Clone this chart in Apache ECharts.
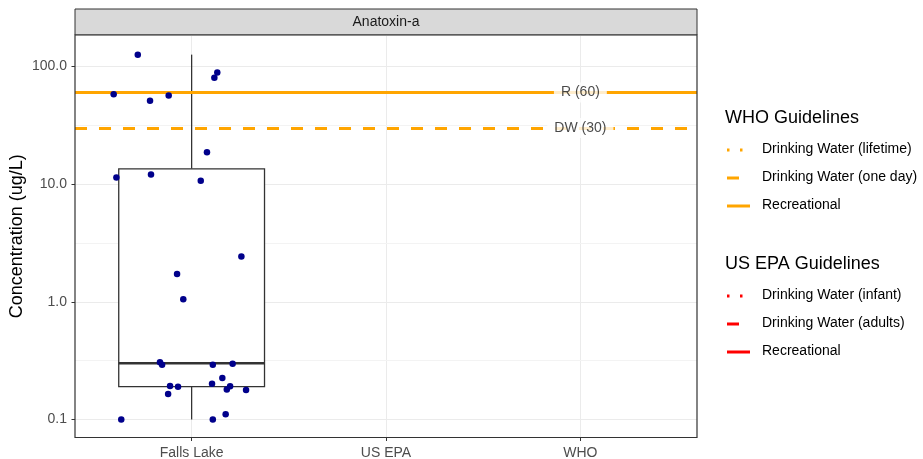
<!DOCTYPE html>
<html>
<head>
<meta charset="utf-8">
<script src="https://cdn.jsdelivr.net/npm/echarts@6/dist/echarts.min.js"></script>
<style>
  html, body { margin: 0; padding: 0; background: #ffffff; }
  #chart { width: 923px; height: 459px; }
</style>
</head>
<body>
<div id="chart"></div>
<script>
// Facet categories on the x axis
const categories = ['Falls Lake', 'US EPA', 'WHO'];

// Minor gridline breaks (half-decades on the log scale)
const yMinorBreaks = [0.316, 3.16, 31.6];

// Falls Lake samples: jittered x position and anatoxin-a concentration (ug/L)
const sampleX = [0.723, 1.132, 1.117, 0.599, 0.786, 0.882, 1.079, 0.613, 0.791, 1.047,
                 1.256, 0.925, 0.957, 0.837, 0.848, 1.109, 1.211, 1.158, 1.105, 0.889,
                 0.930, 0.879, 1.198, 1.181, 1.280, 0.638, 1.109, 1.175];
const sampleConc = [126, 89, 80, 58, 51, 56.5, 18.7, 11.4, 12.1, 10.7,
                    2.43, 1.72, 1.05, 0.307, 0.292, 0.292, 0.297, 0.225, 0.201, 0.193,
                    0.19, 0.165, 0.192, 0.18, 0.178, 0.10, 0.10, 0.111];

// Falls Lake box summary: lower whisker, Q1, median, Q3, upper whisker
const boxStats = [0.1, 0.19, 0.30, 13.5, 126];

// WHO guideline values drawn as horizontal lines
const guidelineAbbr = ['R', 'DW'];
const guidelineValues = [60, 30];

// Legend entries
const whoLegend = ['Drinking Water (lifetime)', 'Drinking Water (one day)', 'Recreational'];
const epaLegend = ['Drinking Water (infant)', 'Drinking Water (adults)', 'Recreational'];

const FONT = '"Liberation Sans", Arial, sans-serif';
const ORANGE = '#FFA500';
const RED = '#FF0000';
const GRID_LEFT = 75, GRID_RIGHT_EDGE = 697, GRID_TOP = 35, GRID_BOTTOM_EDGE = 437.5;

const chart = echarts.init(document.getElementById('chart'), null, { renderer: 'canvas' });

// Legend keys and labels as graphic elements
function legendBlock(title, items, color, titleY, itemY0) {
  const els = [{
    type: 'text', left: 725, top: titleY - 10,
    style: { text: title, font: '18px ' + FONT, fill: '#000000' }
  }];
  const dashes = [[2.5, 10.5], [12, 12], null];
  items.forEach((txt, i) => {
    const y = itemY0 + i * 28;
    els.push({
      type: 'line',
      shape: { x1: 727, y1: y, x2: 750, y2: y },
      style: { stroke: color, lineWidth: 3, lineDash: dashes[i] || null, lineCap: 'butt' }
    });
    els.push({
      type: 'text', left: 762, top: y - 8,
      style: { text: txt, font: '14px ' + FONT, fill: '#000000' }
    });
  });
  return els;
}

const graphics = [
  {
    type: 'rect',
    shape: { x: GRID_LEFT, y: 9, width: GRID_RIGHT_EDGE - GRID_LEFT, height: GRID_TOP - 9 },
    style: { fill: '#D9D9D9', stroke: '#333333', lineWidth: 1 }
  },
  {
    type: 'text',
    x: (GRID_LEFT + GRID_RIGHT_EDGE) / 2, y: 22,
    style: { text: 'Anatoxin-a', font: '14px ' + FONT, fill: '#1A1A1A', align: 'center', verticalAlign: 'middle' }
  },
  {
    // Panel border drawn above the plotted marks
    type: 'rect', z: 100,
    shape: { x: GRID_LEFT, y: GRID_TOP, width: GRID_RIGHT_EDGE - GRID_LEFT, height: GRID_BOTTOM_EDGE - GRID_TOP },
    style: { fill: null, stroke: '#333333', lineWidth: 1.2 }
  }
].concat(legendBlock('WHO Guidelines', whoLegend, ORANGE, 119, 150))
 .concat(legendBlock('US EPA Guidelines', epaLegend, RED, 265, 296));

const option = {
  animation: false,
  backgroundColor: '#ffffff',
  textStyle: { fontFamily: FONT },
  grid: {
    left: GRID_LEFT, top: GRID_TOP,
    right: 923 - GRID_RIGHT_EDGE, bottom: 459 - GRID_BOTTOM_EDGE,
    containLabel: false, outerBoundsMode: 'none',
    show: false
  },
  xAxis: {
    type: 'value', min: 0.4, max: 3.6,
    axisLine: { show: false },
    axisTick: { show: true, customValues: [1, 2, 3], length: 3.5, lineStyle: { color: '#333333' } },
    axisLabel: {
      customValues: [1, 2, 3], margin: 8.5,
      formatter: v => categories[Math.round(v) - 1] || '',
      color: '#4D4D4D', fontSize: 14, fontFamily: FONT
    },
    splitLine: { show: false }
  },
  yAxis: {
    type: 'log', logBase: 10, min: 0.0703, max: 185,
    name: 'Concentration (ug/L)', nameLocation: 'middle', nameGap: 49, nameMoveOverlap: false,
    nameTextStyle: { color: '#000000', fontSize: 18, fontFamily: FONT },
    axisLine: { show: false },
    axisTick: { show: true, length: 3.5, lineStyle: { color: '#333333' } },
    axisLabel: {
      margin: 8, color: '#4D4D4D', fontSize: 14, fontFamily: FONT,
      showMinLabel: false, showMaxLabel: false,
      formatter: v => Number(v).toFixed(1)
    },
    splitLine: { show: true, lineStyle: { color: '#EBEBEB', width: 1 } }
  },
  graphic: graphics,
  series: [
    {
      // Box and whiskers for Falls Lake, plus background gridlines
      type: 'custom',
      z: 2,
      data: [[1].concat(boxStats)],
      renderItem: (params, api) => {
        const x = api.value(0);
        const half = 0.375;
        const lo = api.coord([x, api.value(1)]);
        const q1 = api.coord([x, api.value(2)]);
        const md = api.coord([x, api.value(3)]);
        const q3 = api.coord([x, api.value(4)]);
        const hi = api.coord([x, api.value(5)]);
        const left = api.coord([x - half, api.value(3)])[0];
        const right = api.coord([x + half, api.value(3)])[0];
        const stroke = { stroke: '#333333', lineWidth: 1.3, fill: null };
        return {
          type: 'group',
          children: [
            { type: 'line', shape: { x1: hi[0], y1: hi[1], x2: q3[0], y2: q3[1] }, style: stroke },
            { type: 'line', shape: { x1: q1[0], y1: q1[1], x2: lo[0], y2: lo[1] }, style: stroke },
            { type: 'rect', shape: { x: left, y: q3[1], width: right - left, height: q1[1] - q3[1] },
              style: { fill: '#ffffff', stroke: '#333333', lineWidth: 1.3 } },
            { type: 'line', shape: { x1: left, y1: md[1], x2: right, y2: md[1] },
              style: { stroke: '#333333', lineWidth: 2.5 } }
          ]
        };
      },
      markLine: {
        silent: true, z: 1, symbol: ['none', 'none'], label: { show: false },
        lineStyle: { color: '#EBEBEB', width: 1, type: 'solid' },
        data: [1, 2, 3].map(v => ({ xAxis: v }))
          .concat(yMinorBreaks.map(v => ({ yAxis: v, lineStyle: { color: '#F3F3F3', width: 1 } })))
      }
    },
    {
      // WHO guideline lines
      type: 'line',
      data: [],
      z: 3,
      markLine: {
        silent: true, z: 3, symbol: ['none', 'none'], label: { show: false },
        data: guidelineValues.map((v, i) => ({
          yAxis: v,
          lineStyle: { color: ORANGE, width: 3, type: i === 0 ? 'solid' : [12, 12] }
        }))
      }
    },
    {
      type: 'scatter',
      z: 4,
      symbol: 'circle',
      symbolSize: 6.5,
      itemStyle: { color: '#00008B', opacity: 1 },
      data: sampleX.map((x, i) => [x, sampleConc[i]])
    },
    {
      // Guideline value labels placed at the WHO column
      type: 'scatter',
      z: 6,
      symbolSize: 0,
      data: guidelineValues.map((v, i) => ({ value: [3, v], name: guidelineAbbr[i] })),
      label: {
        show: true, position: 'inside',
        formatter: p => p.name + ' (' + p.value[1] + ')',
        backgroundColor: '#ffffff', padding: [3, 7],
        color: '#1A1A1A', fontSize: 14, fontFamily: FONT
      }
    }
  ]
};

chart.setOption(option);
</script>
</body>
</html>
